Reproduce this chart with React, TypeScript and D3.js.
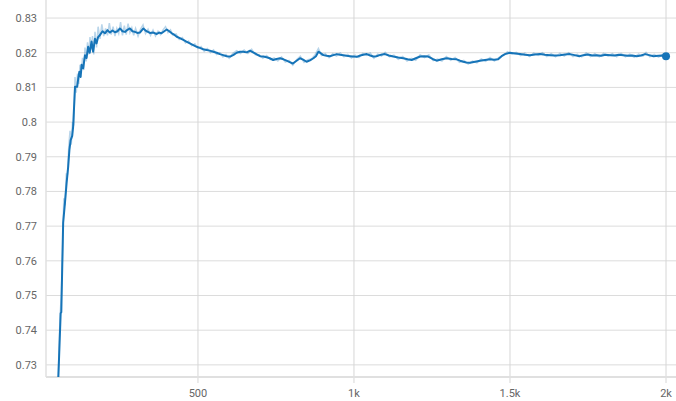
import React, { useRef, useEffect } from 'react';
import * as d3 from 'd3';

// smoothed series (step, value)
const smoothSteps = [
  50, 60, 62, 68, 74, 79, 84, 88, 92, 97, 100, 106, 113, 117, 120, 124, 127, 132, 138, 143,
  148, 153, 159, 164, 170, 175, 180, 186, 194, 202, 210, 218, 226, 234, 242, 250, 258, 266, 274, 282,
  290, 298, 306, 314, 325, 335, 346, 357, 368, 376, 383, 392, 400, 408, 416, 424, 432, 442, 453, 463,
  474, 485, 496, 506, 517, 528, 538, 549, 560, 570, 581, 592, 603, 614, 624, 635, 645, 656, 667, 675,
  683, 691, 699, 710, 720, 730, 741, 752, 763, 774, 784, 794, 804, 815, 827, 837, 848, 859, 870, 878,
  886, 894, 902, 912, 923, 934, 945, 955, 966, 976, 987, 998, 1009, 1020, 1030, 1041, 1052, 1062, 1072, 1082,
  1090, 1099, 1112, 1126, 1142, 1158, 1172, 1185, 1198, 1212, 1225, 1238, 1252, 1265, 1281, 1297, 1313, 1329, 1340, 1350,
  1360, 1372, 1388, 1404, 1420, 1436, 1449, 1462, 1473, 1484, 1500, 1516, 1532, 1548, 1564, 1580, 1596, 1612, 1628, 1644,
  1660, 1676, 1692, 1707, 1722, 1735, 1750, 1764, 1778, 1792, 1806, 1821, 1835, 1849, 1863, 1878, 1892, 1906, 1920, 1933,
  1946, 1960, 1975, 1988, 2000,
];
const smoothValues = [
  0.7200, 0.7449, 0.7452, 0.7710, 0.7770, 0.7824, 0.7870, 0.7920, 0.7948, 0.7960, 0.7987, 0.8102, 0.8102, 0.8130, 0.8145, 0.8130, 0.8165, 0.8155, 0.8193, 0.8185,
  0.8217, 0.8200, 0.8232, 0.8203, 0.8240, 0.8227, 0.8245, 0.8251, 0.8262, 0.8256, 0.8265, 0.8258, 0.8264, 0.8259, 0.8262, 0.8270, 0.8262, 0.8260, 0.8266, 0.8270,
  0.8262, 0.8260, 0.8257, 0.8258, 0.8270, 0.8262, 0.8257, 0.8258, 0.8254, 0.8258, 0.8256, 0.8262, 0.8267, 0.8262, 0.8256, 0.8252, 0.8246, 0.8242, 0.8237, 0.8232,
  0.8227, 0.8222, 0.8217, 0.8214, 0.8210, 0.8208, 0.8206, 0.8203, 0.8200, 0.8196, 0.8193, 0.8190, 0.8189, 0.8194, 0.8200, 0.8203, 0.8203, 0.8201, 0.8206, 0.8202,
  0.8198, 0.8194, 0.8190, 0.8189, 0.8187, 0.8184, 0.8179, 0.8182, 0.8184, 0.8181, 0.8177, 0.8173, 0.8169, 0.8176, 0.8184, 0.8180, 0.8174, 0.8178, 0.8184, 0.8190,
  0.8203, 0.8198, 0.8193, 0.8191, 0.8190, 0.8193, 0.8196, 0.8194, 0.8193, 0.8191, 0.8190, 0.8189, 0.8188, 0.8192, 0.8194, 0.8196, 0.8192, 0.8189, 0.8190, 0.8193,
  0.8195, 0.8196, 0.8192, 0.8189, 0.8186, 0.8184, 0.8181, 0.8179, 0.8184, 0.8189, 0.8190, 0.8189, 0.8182, 0.8177, 0.8181, 0.8184, 0.8182, 0.8181, 0.8177, 0.8174,
  0.8172, 0.8171, 0.8174, 0.8177, 0.8179, 0.8181, 0.8180, 0.8181, 0.8190, 0.8196, 0.8200, 0.8198, 0.8196, 0.8194, 0.8193, 0.8195, 0.8196, 0.8194, 0.8193, 0.8192,
  0.8193, 0.8195, 0.8196, 0.8193, 0.8190, 0.8193, 0.8195, 0.8192, 0.8193, 0.8191, 0.8194, 0.8193, 0.8192, 0.8194, 0.8193, 0.8191, 0.8192, 0.8190, 0.8192, 0.8196,
  0.8193, 0.8190, 0.8191, 0.8192, 0.8190,
];

// raw (unsmoothed) series
const rawSteps = [
  50, 58, 62, 66, 70, 74, 78, 82, 86, 90, 94, 98, 102, 106, 110, 114, 118, 122, 126, 130,
  134, 138, 142, 146, 150, 154, 158, 162, 166, 170, 175, 180, 186, 192, 198, 204, 210, 216, 222, 228,
  234, 240, 246, 252, 258, 264, 270, 276, 282, 288, 294, 300, 308, 316, 324, 332, 340, 348, 356, 364,
  372, 380, 388, 396, 404, 412, 420, 430, 440, 450, 460, 470, 480, 490, 500, 510, 520, 530, 540, 550,
  560, 570, 580, 590, 600, 612, 624, 636, 648, 660, 672, 684, 696, 708, 720, 732, 744, 756, 768, 780,
  792, 804, 816, 828, 840, 852, 864, 876, 886, 896, 908, 920, 932, 944, 956, 968, 980, 992, 1004, 1016,
  1028, 1040, 1052, 1064, 1076, 1088, 1100, 1114, 1128, 1142, 1156, 1170, 1184, 1198, 1212, 1226, 1240, 1254, 1268, 1282,
  1296, 1310, 1324, 1338, 1352, 1366, 1380, 1394, 1408, 1422, 1436, 1450, 1464, 1478, 1492, 1506, 1520, 1534, 1548, 1562,
  1576, 1590, 1604, 1618, 1632, 1646, 1660, 1674, 1688, 1702, 1716, 1730, 1744, 1758, 1772, 1786, 1800, 1814, 1828, 1842,
  1856, 1870, 1884, 1898, 1912, 1926, 1936, 1948, 1962, 1976, 1990, 2000,
];
const rawValues = [
  0.7200, 0.7440, 0.7500, 0.7620, 0.7780, 0.7760, 0.7850, 0.7850, 0.7930, 0.7975, 0.7935, 0.8000, 0.7990, 0.8130, 0.8085, 0.8140, 0.8110, 0.8165, 0.8140, 0.8185,
  0.8150, 0.8215, 0.8175, 0.8230, 0.8195, 0.8245, 0.8210, 0.8248, 0.8195, 0.8260, 0.8215, 0.8275, 0.8240, 0.8282, 0.8248, 0.8270, 0.8250, 0.8285, 0.8252, 0.8275,
  0.8248, 0.8270, 0.8255, 0.8288, 0.8250, 0.8278, 0.8252, 0.8284, 0.8258, 0.8272, 0.8250, 0.8270, 0.8248, 0.8268, 0.8280, 0.8255, 0.8268, 0.8250, 0.8265, 0.8248,
  0.8262, 0.8252, 0.8266, 0.8275, 0.8258, 0.8266, 0.8250, 0.8254, 0.8238, 0.8244, 0.8228, 0.8234, 0.8220, 0.8226, 0.8212, 0.8218, 0.8204, 0.8212, 0.8200, 0.8208,
  0.8195, 0.8200, 0.8188, 0.8195, 0.8184, 0.8198, 0.8206, 0.8198, 0.8208, 0.8198, 0.8210, 0.8194, 0.8194, 0.8184, 0.8192, 0.8180, 0.8185, 0.8176, 0.8188, 0.8173,
  0.8178, 0.8164, 0.8180, 0.8190, 0.8172, 0.8180, 0.8182, 0.8195, 0.8212, 0.8192, 0.8197, 0.8186, 0.8197, 0.8190, 0.8199, 0.8188, 0.8195, 0.8185, 0.8193, 0.8186,
  0.8198, 0.8192, 0.8199, 0.8184, 0.8196, 0.8190, 0.8201, 0.8188, 0.8193, 0.8181, 0.8189, 0.8176, 0.8184, 0.8178, 0.8194, 0.8186, 0.8194, 0.8177, 0.8182, 0.8176,
  0.8189, 0.8178, 0.8186, 0.8172, 0.8178, 0.8167, 0.8176, 0.8171, 0.8182, 0.8175, 0.8186, 0.8176, 0.8186, 0.8192, 0.8203, 0.8196, 0.8201, 0.8192, 0.8199, 0.8189,
  0.8199, 0.8192, 0.8200, 0.8189, 0.8197, 0.8188, 0.8198, 0.8190, 0.8200, 0.8189, 0.8195, 0.8188, 0.8199, 0.8189, 0.8197, 0.8188, 0.8198, 0.8190, 0.8197, 0.8188,
  0.8198, 0.8188, 0.8196, 0.8187, 0.8196, 0.8190, 0.8201, 0.8188, 0.8195, 0.8187, 0.8195, 0.8190,
];

const yTicks = [0.73, 0.74, 0.75, 0.76, 0.77, 0.78, 0.79, 0.8, 0.81, 0.82, 0.83];
const xTicks = [500, 1000, 1500, 2000];

const App = () => {
  const svgRef = useRef(null);

  useEffect(() => {
    const width = 676;
    const height = 401;
    const margin = { top: 0, right: 0, bottom: 24, left: 46 };
    const plotBottom = height - margin.bottom;

    const svg = d3.select(svgRef.current)
      .attr('width', width)
      .attr('height', height);
    svg.selectAll('*').remove();

    const xScale = d3.scaleLinear()
      .domain([13, 2032])
      .range([margin.left, width - margin.right]);

    const yScale = d3.scaleLinear()
      .domain([0.7265, 0.8352])
      .range([plotBottom, margin.top]);

    svg.append('defs').append('clipPath')
      .attr('id', 'plot-clip')
      .append('rect')
      .attr('x', margin.left)
      .attr('y', margin.top)
      .attr('width', width - margin.right - margin.left)
      .attr('height', plotBottom - margin.top);

    // horizontal grid
    svg.selectAll('.y-grid')
      .data(yTicks)
      .enter().append('line')
      .attr('class', 'y-grid')
      .attr('x1', margin.left)
      .attr('x2', width - margin.right)
      .attr('y1', d => yScale(d))
      .attr('y2', d => yScale(d))
      .attr('stroke', '#dcdcdc')
      .attr('stroke-width', 1);

    // vertical grid
    svg.selectAll('.x-grid')
      .data(xTicks)
      .enter().append('line')
      .attr('class', 'x-grid')
      .attr('x1', d => xScale(d))
      .attr('x2', d => xScale(d))
      .attr('y1', margin.top)
      .attr('y2', plotBottom + 6)
      .attr('stroke', '#d6d6d6')
      .attr('stroke-width', 1);

    // axis lines
    svg.append('line')
      .attr('x1', margin.left)
      .attr('x2', width - margin.right)
      .attr('y1', plotBottom)
      .attr('y2', plotBottom)
      .attr('stroke', '#e0e0e0')
      .attr('stroke-width', 2);
    svg.append('line')
      .attr('x1', margin.left)
      .attr('x2', margin.left)
      .attr('y1', margin.top)
      .attr('y2', plotBottom)
      .attr('stroke', '#e0e0e0')
      .attr('stroke-width', 1.5);

    svg.selectAll('.y-label')
      .data(yTicks)
      .enter().append('text')
      .attr('class', 'y-label')
      .attr('x', 37)
      .attr('y', d => yScale(d))
      .attr('dy', '0.35em')
      .attr('text-anchor', 'end')
      .attr('font-family', 'Roboto, sans-serif')
      .attr('font-size', 11)
      .attr('fill', '#666666')
      .text(d => d3.format('~g')(d));

    svg.selectAll('.x-label')
      .data(xTicks)
      .enter().append('text')
      .attr('class', 'x-label')
      .attr('x', d => xScale(d))
      .attr('y', 397)
      .attr('text-anchor', 'middle')
      .attr('font-family', 'Roboto, sans-serif')
      .attr('font-size', 11)
      .attr('fill', '#666666')
      .text(d => d3.format('~s')(d));

    const line = d3.line<[number, number]>()
      .x(d => xScale(d[0]))
      .y(d => yScale(d[1]));

    const raw = rawSteps.map((s, i) => [s, rawValues[i]] as [number, number]);
    const smooth = smoothSteps.map((s, i) => [s, smoothValues[i]] as [number, number]);

    const plot = svg.append('g').attr('clip-path', 'url(#plot-clip)');

    plot.append('path')
      .attr('d', line(raw))
      .attr('fill', 'none')
      .attr('stroke', '#1674b8')
      .attr('stroke-opacity', 0.3)
      .attr('stroke-width', 1.5);

    plot.append('path')
      .attr('d', line(smooth))
      .attr('fill', 'none')
      .attr('stroke', '#1674b8')
      .attr('stroke-width', 2)
      .attr('stroke-linejoin', 'round');

    const last = smooth[smooth.length - 1];
    svg.append('circle')
      .attr('cx', xScale(last[0]))
      .attr('cy', yScale(last[1]))
      .attr('r', 4)
      .attr('fill', '#1674b8');
  }, []);

  return <svg ref={svgRef} style={{ position: 'absolute', left: 0, top: 0 }}></svg>;
};

export default App;
